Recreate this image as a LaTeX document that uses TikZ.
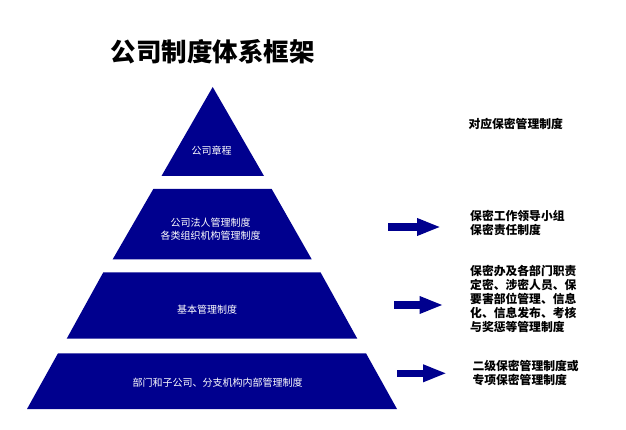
\documentclass[tikz,border=0pt]{standalone}
\usepackage{fontspec}
\newfontfamily\cjk{Noto Sans CJK SC}
\usetikzlibrary{arrows.meta}
\definecolor{navy}{RGB}{0,0,142}
\tikzset{
  layer/.style={fill=navy},
  intxt/.style={font=\cjk\fontsize{10}{13}\selectfont, text=white, align=center, inner sep=0pt},
  sidetxt/.style={font=\cjk\bfseries\fontsize{11.8}{14}\selectfont, text=black, align=left, anchor=west, inner sep=0pt},
  blockarrow/.style={draw=navy, line width=7.5pt, -{Triangle[length=24pt,width=16pt]}}
}
\begin{document}
\begin{tikzpicture}[x=1pt,y=-1pt]
\useasboundingbox (0,0) rectangle (626,430);
% title
\node[font=\cjk\bfseries\fontsize{25.5}{28}\selectfont, inner sep=0pt] (title) at (212.5,51.5) {公司制度体系框架};
% pyramid layers
\fill[layer] (212.7,87) -- (264,176) -- (161.5,176) -- cycle;
\fill[layer] (153.3,189) -- (271.7,189) -- (311.7,259.3) -- (112.7,259.3) -- cycle;
\fill[layer] (103.3,272.3) -- (320.5,272.3) -- (357.3,338.7) -- (66.7,338.7) -- cycle;
\fill[layer] (58,353.3) -- (366,353.3) -- (397,409) -- (27,409) -- cycle;
% layer texts
\node[intxt] (l1) at (211.7,150.7) {公司章程};
\node[intxt] (l2) at (210.5,229.3) {公司法人管理制度\\各类组织机构管理制度};
\node[intxt] (l3) at (207,309.3) {基本管理制度};
\node[intxt] (l4) at (217.7,382.7) {部门和子公司、分支机构内部管理制度};
% side texts
\node[sidetxt] (head) at (468.3,124) {对应保密管理制度};
\node[sidetxt] (s2) at (470,223) {保密工作领导小组\\保密责任制度};
\node[sidetxt] (s3) at (470,298.7) {保密办及各部门职责\\定密、涉密人员、保\\要害部位管理、信息\\化、信息发布、考核\\与奖惩等管理制度};
\node[sidetxt] (s4) at (472.3,372.8) {二级保密管理制度或\\专项保密管理制度};
% arrows
\coordinate (a1s) at (388,227);  \coordinate (a1e) at (441,227);
\coordinate (a2s) at (394,305);  \coordinate (a2e) at (443.5,305);
\coordinate (a3s) at (397.3,373.3); \coordinate (a3e) at (447,373.3);
\draw[blockarrow] (a1s) -- (a1e);
\draw[blockarrow] (a2s) -- (a2e);
\draw[blockarrow] (a3s) -- (a3e);
\end{tikzpicture}
\end{document}
